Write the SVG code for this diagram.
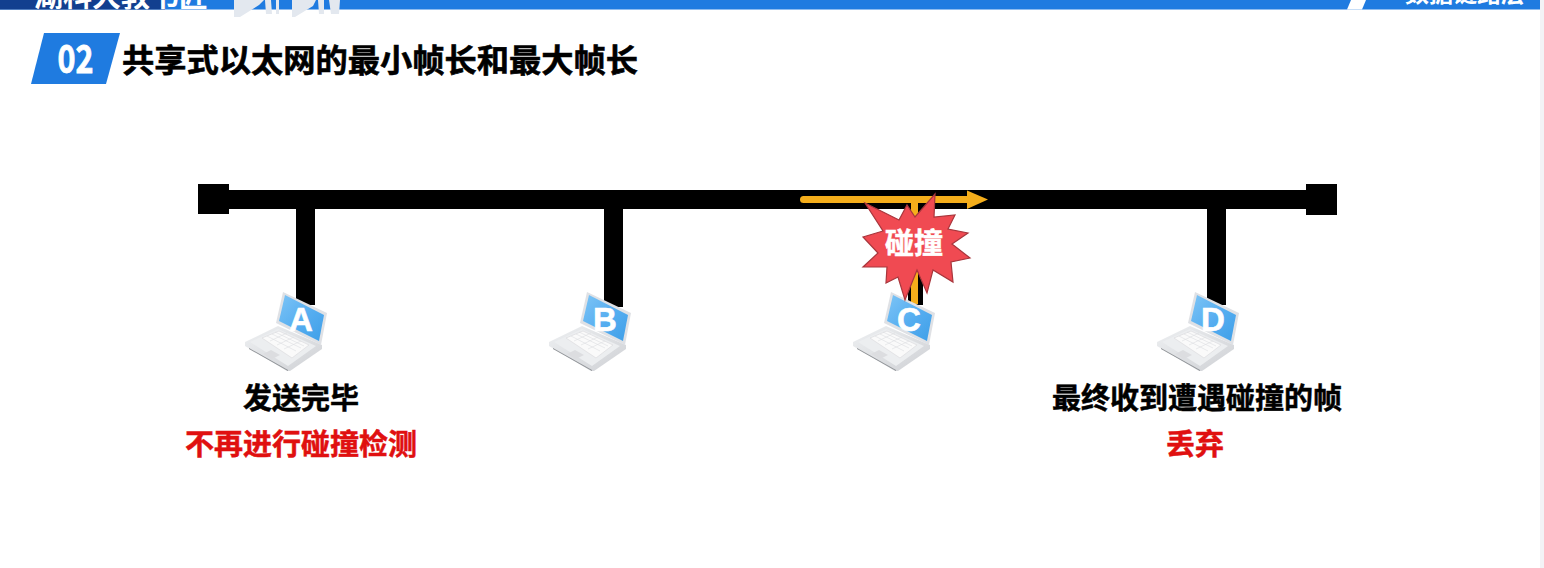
<svg xmlns="http://www.w3.org/2000/svg" width="1544" height="568" viewBox="0 0 1544 568">
<style>
text{font-family:"Noto Sans CJK SC","Liberation Sans",sans-serif;font-weight:700}
.lab{font-size:29px;text-anchor:middle;fill:#000;stroke:#000;stroke-width:.5px}
.red{fill:#e01010;stroke:#e01010}
.let{font-family:"Liberation Sans",sans-serif;font-size:33px;fill:#fff;stroke:#fff;stroke-width:.6px;text-anchor:middle}
.bus{fill:#000}
.arr{fill:#f5ae1b}
.key{stroke:#dcdde0;stroke-width:.6;fill:none}
</style>
<defs>
<linearGradient id="scr" x1="0" y1="0" x2="1" y2="1"><stop offset="0" stop-color="#7cc4f6"/><stop offset=".55" stop-color="#55adf0"/><stop offset="1" stop-color="#3f9fe8"/></linearGradient>
<linearGradient id="bs" x1="0" y1="0" x2="1" y2="1"><stop offset="0" stop-color="#eef0f2"/><stop offset="1" stop-color="#cfd1d5"/></linearGradient>
<symbol id="laptop" overflow="visible" viewBox="0 0 1544 568" width="1544" height="568">
<polygon points="245,342 278,326 322,345 322,349 290,371 287,371 245,346" fill="url(#bs)"/>
<polygon points="250,342 278,329 316,346 288,366" fill="#eceef0"/>
<polygon points="262,338 279,331 309,345 292,358" fill="#fafafa" stroke="#dcdde0" stroke-width=".7"/>
<path class="key" d="M267,336l29,15M272,334l29,14M275,332l29,14M270,341l17-8M277,345l17-8M284,349l17-8"/>
<polygon points="263,354 271,350 280,355 272,359" fill="#dcdde0"/>
<polygon points="249,348 288,370 288,371 249,349" fill="#8f9296"/>
<polygon points="283,292 327,313 321,345 276,323" fill="#dfe1e5"/>
<polygon points="285,295 324,315 319,341 279,321" fill="url(#scr)"/>
</symbol>
<clipPath id="topClip"><rect x="0" y="0" width="1544" height="9.500"/></clipPath>
</defs>
<rect width="1544" height="568" fill="#fff"/>
<rect x="1540" y="0" width="4" height="568" fill="#f3f3f6"/>
<g id="header">
<rect x="0" y="0" width="1540" height="9.500" fill="#1f7be0"/>
<rect x="0" y="0" width="165" height="9.500" fill="#123f8f"/>
<polygon points="1347,9.500 1351,0 1366,0 1362,9.500" fill="#fff"/>
<g clip-path="url(#topClip)">
<text x="34" y="7" font-size="29" fill="#fff">湖科大教书匠</text>
<text x="1405" y="2" font-size="24" fill="#fff">数据链路层</text>
</g>
<path d="M234,0h30l-5,5-19,12-6,0zM265,0h6l1,14h-6zM276,0h3v14h-3zM292,0h24l-3,6-18,11-3,0zM318,0h6v14h-5zM329,0h5l6,0-1,14h-8z" fill="#e3e8ef"/>
</g>
<g id="title">
<polygon points="44,33 120,33 106,84 31,84" fill="#1f7be0"/>
<text x="57.500" y="73" font-size="39" fill="#fff" stroke="#fff" stroke-width=".8" font-family="Liberation Sans" textLength="36" lengthAdjust="spacingAndGlyphs">02</text>
<text x="122" y="72" font-size="32" fill="#000" stroke="#000" stroke-width=".6" textLength="516" lengthAdjust="spacingAndGlyphs">共享式以太网的最小帧长和最大帧长</text>
</g>
<g id="connectors">
<rect class="bus" x="205" y="190" width="1125" height="19"/>
<rect class="bus" x="198" y="184" width="31" height="30"/>
<rect class="bus" x="1306" y="184" width="31" height="31"/>
<rect class="bus" x="296" y="205" width="19" height="100"/>
<rect class="bus" x="604" y="205" width="19" height="102"/>
<rect class="bus" x="908" y="205" width="15" height="100"/>
<rect class="bus" x="1207" y="205" width="19" height="100"/>
<rect class="arr" x="911" y="199" width="7" height="105"/>
<rect class="arr" x="800" y="196" width="170" height="7" rx="3.500"/>
<polygon class="arr" points="967,190.500 988,199.500 967,209"/>
</g>
<g id="node-A"><use href="#laptop"/><text class="let" x="301" y="331">A</text></g>
<g id="node-B"><use href="#laptop" x="304"/><text class="let" x="605" y="331">B</text></g>
<g id="node-C"><use href="#laptop" x="608"/><text class="let" x="909" y="331">C</text></g>
<g id="node-D"><use href="#laptop" x="912"/><text class="let" x="1213" y="331">D</text></g>
<g id="collision">
<polygon points="935,194 934,217 955,215 948,229 968,233 952,244 970,258 951,262 953,282 933,270 927,293 917,270 905,300 898,277 886,283 887,267 863,267 878,253 863,237 883,231 865,203 899,220 907,205 915,217" fill="#f04a52" stroke="#a8363c" stroke-width="1.200"/>
<text x="914" y="254" font-size="29" fill="#fff" stroke="#fff" stroke-width=".5" text-anchor="middle">碰撞</text>
</g>
<g id="labels">
<text class="lab" x="301" y="409">发送完毕</text>
<text class="lab red" x="301" y="455">不再进行碰撞检测</text>
<text class="lab" x="1197" y="409">最终收到遭遇碰撞的帧</text>
<text class="lab red" x="1195" y="455">丢弃</text>
</g>
</svg>
